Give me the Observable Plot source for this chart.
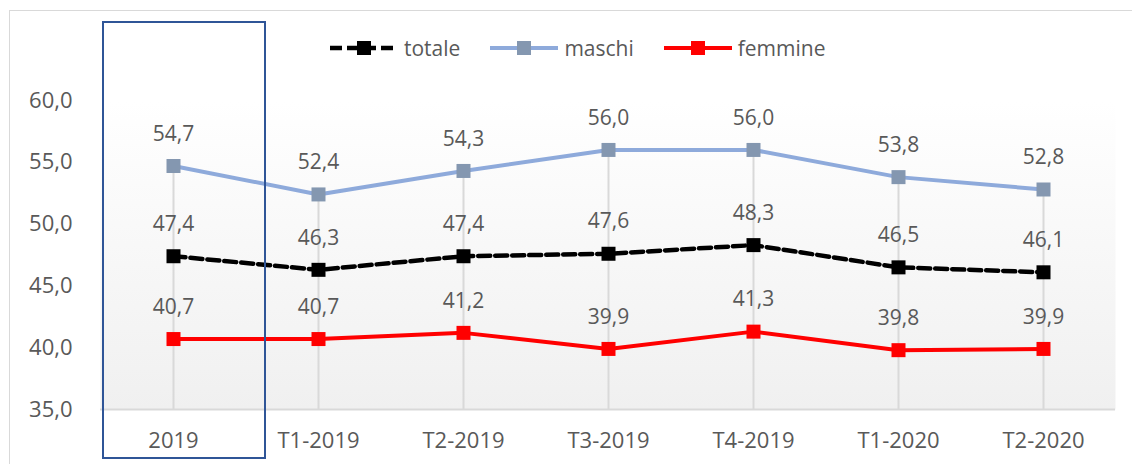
<!DOCTYPE html>
<html><head><meta charset="utf-8">
<script src="https://cdn.jsdelivr.net/npm/d3@7"></script>
<script src="https://cdn.jsdelivr.net/npm/@observablehq/plot@0.6"></script>
<style>
body{margin:0;background:#fff;font-family:"Open Sans",sans-serif;}
#wrap{position:relative;width:1132px;height:464px;overflow:hidden;}
#border{position:absolute;left:9px;top:10px;width:1200px;height:500px;border-left:1.5px solid #d9d9d9;border-top:1.5px solid #d9d9d9;box-sizing:border-box;}
#hl{position:absolute;left:102px;top:21px;width:164px;height:438px;border:2.5px solid #2f5597;box-sizing:border-box;pointer-events:none;}
#legend{position:absolute;top:35px;left:330px;display:flex;align-items:center;gap:30px;font-size:21px;color:#595959;line-height:26px;}
#legend .item{display:flex;align-items:center;gap:6px;}
#chart{position:absolute;left:0;top:0;}
</style>
</head><body>
<div id="wrap">
  <div id="border"></div>
  <div id="chart"></div>
  <div id="legend"></div>
  <div id="hl"></div>
</div>
<script>
const categories = ["2019","T1-2019","T2-2019","T3-2019","T4-2019","T1-2020","T2-2020"];
const totale  = [47.4, 46.3, 47.4, 47.6, 48.3, 46.5, 46.1];
const maschi  = [54.7, 52.4, 54.3, 56.0, 56.0, 53.8, 52.8];
const femmine = [40.7, 40.7, 41.2, 39.9, 41.3, 39.8, 39.9];
const seriesNames = ["totale", "maschi", "femmine"];
const yTicks = [35, 40, 45, 50, 55, 60];

const seriesValues = {totale, maschi, femmine};
const style = {
  totale:  {line: "#000000", marker: "#000000", width: 4.5, dash: "12,5"},
  maschi:  {line: "#8eaadb", marker: "#8497b0", width: 4, dash: null},
  femmine: {line: "#ff0000", marker: "#ff0000", width: 4, dash: null}
};
const rows = s => categories.map((c, i) => ({serie: s, cat: c, value: seriesValues[s][i]}));
const fmt = v => v.toFixed(1).replace(".", ",");

const gradDefs = () => {
  const defs = d3.create("svg:defs");
  const g = defs.append("linearGradient").attr("id", "bg").attr("x1", 0).attr("y1", 0).attr("x2", 0).attr("y2", 1);
  g.append("stop").attr("offset", "0%").attr("stop-color", "#ffffff");
  g.append("stop").attr("offset", "100%").attr("stop-color", "#f0f0f0");
  return defs.node();
};

const marks = [
  gradDefs,
  Plot.frame({fill: "url(#bg)", stroke: null}),
  Plot.ruleX(categories.map((c, i) => ({cat: c, top: Math.max(totale[i], maschi[i], femmine[i])})),
    {x: "cat", y1: 35, y2: "top", stroke: "#d9d9d9", strokeWidth: 2}),
  Plot.ruleY([35], {stroke: "#d9d9d9", strokeWidth: 2})
];
for (const s of ["maschi", "totale", "femmine"]) {
  const st = style[s];
  marks.push(Plot.line(rows(s), {x: "cat", y: "value", stroke: st.line, strokeWidth: st.width,
    strokeDasharray: st.dash || undefined, strokeLinejoin: "round"}));
  marks.push(Plot.dot(rows(s), {x: "cat", y: "value", symbol: "square", r: 7.9, fill: st.marker, stroke: null}));
  marks.push(Plot.text(rows(s), {x: "cat", y: "value", text: d => fmt(d.value), dy: -32, fill: "#595959", fontSize: 21}));
}

const chart = Plot.plot({
  width: 1132, height: 464,
  marginLeft: 100, marginRight: 17, marginTop: 100, marginBottom: 55,
  style: {fontFamily: "Open Sans", fontSize: "22px", color: "#595959", background: "transparent", overflow: "visible"},
  x: {type: "point", domain: categories, padding: 0.5, label: null, tickSize: 0, tickPadding: 23},
  y: {domain: [35, 60], ticks: yTicks, tickFormat: fmt, label: null, tickSize: 0, tickPadding: 28},
  marks
});
document.getElementById("chart").append(chart);

// legend
const legend = d3.select("#legend");
for (const s of seriesNames) {
  const st = style[s];
  const item = legend.append("div").attr("class", "item");
  const svg = item.append("svg").attr("width", 68).attr("height", 20);
  svg.append("line").attr("x1", 0).attr("x2", 68).attr("y1", 10).attr("y2", 10)
    .attr("stroke", st.line).attr("stroke-width", st.width)
    .attr("stroke-dasharray", st.dash ? "12,5" : null)
    .attr("stroke-linecap", st.dash ? "butt" : "round");
  svg.append("rect").attr("x", 27).attr("y", 3).attr("width", 14).attr("height", 14).attr("fill", st.marker);
  item.append("span").text(s);
}
</script>
</body></html>
